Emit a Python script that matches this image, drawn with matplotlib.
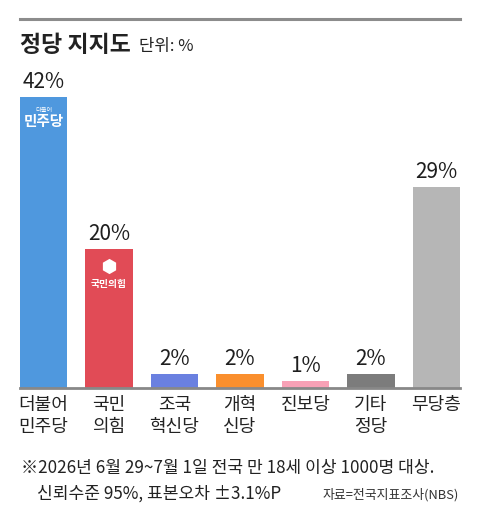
import matplotlib
matplotlib.use("Agg")
import matplotlib.pyplot as plt
from matplotlib.lines import Line2D

plt.rcParams['font.family'] = ['Noto Sans CJK KR', 'DejaVu Sans']

parties = ['더불어\n민주당', '국민\n의힘', '조국\n혁신당', '개혁\n신당', '진보당', '기타\n정당', '무당층']
support = [42, 20, 2, 2, 1, 2, 29]
colors = ['#4f98de', '#e14b56', '#6a80e0', '#fa8f2d', '#f8a1b6', '#7c7c7c', '#b6b6b6']

title = '정당 지지도'
unit = '단위: %'
note1 = '※2026년 6월 29~7월 1일 전국 만 18세 이상 1000명 대상.'
note2 = '신뢰수준 95%, 표본오차 ±3.1%P'
source = '자료=전국지표조사(NBS)'

W, H = 480, 525
fig = plt.figure(figsize=(W / 100, H / 100), dpi=100)


def px(x, y):
    return x / W, 1 - y / H


# top rule
x0, y0 = px(20, 19)
x1, _ = px(460, 19)
fig.add_artist(Line2D([x0, x1], [y0, y0], color='#8c8c8c', lw=2.2))

fig.text(*px(20, 45), title, fontsize=16.5, fontweight='bold', color='#222222', va='center')
fig.text(*px(139, 46), unit, fontsize=12, color='#222222', va='center')

ax = fig.add_axes([20 / W, 1 - 388 / H, 440 / W, 328 / H])
bw = 0.72
xs = list(range(len(parties)))
ax.bar(xs, support, width=bw, color=colors)
ax.set_xlim(-bw / 2, len(parties) - 1 + bw / 2)
ax.set_ylim(0, 328 / 6.93)

for s in ['top', 'left', 'right']:
    ax.spines[s].set_visible(False)
ax.spines['bottom'].set_color('#888888')
ax.spines['bottom'].set_linewidth(2)
ax.set_yticks([])
ax.set_xticks(xs)
ax.set_xticklabels(parties, fontsize=13, color='#222222', linespacing=1.25)
ax.tick_params(axis='x', length=0, pad=6)

for x, v in zip(xs, support):
    ax.annotate(f'{v}%', (x, v), xytext=(0, 3), textcoords='offset points',
                ha='center', va='bottom', fontsize=15, fontweight='medium',
                color='#1e1e1e')

# party logos inside bars
ax.annotate('더불어', (0, support[0]), xytext=(0, -9.5), textcoords='offset points',
            ha='center', va='center', fontsize=4.5, color='white')
ax.annotate('민주당', (0, support[0]), xytext=(0, -17), textcoords='offset points',
            ha='center', va='center', fontsize=10.5, fontweight='bold', color='white')
ax.plot([1], [support[1] - 17 / 6.93], marker='h', markersize=11, color='white', mew=0)
ax.annotate('국민의힘', (1, support[1]), xytext=(0, -25), textcoords='offset points',
            ha='center', va='center', fontsize=7, fontweight='bold', color='white')

fig.text(*px(21, 468), note1, fontsize=12.3, color='#222222', va='center')
fig.text(*px(37, 494), note2, fontsize=12.3, color='#222222', va='center')
fig.text(*px(459, 495), source, fontsize=9.3, color='#333333', va='center', ha='right')

fig.savefig('out.png', dpi=100)
